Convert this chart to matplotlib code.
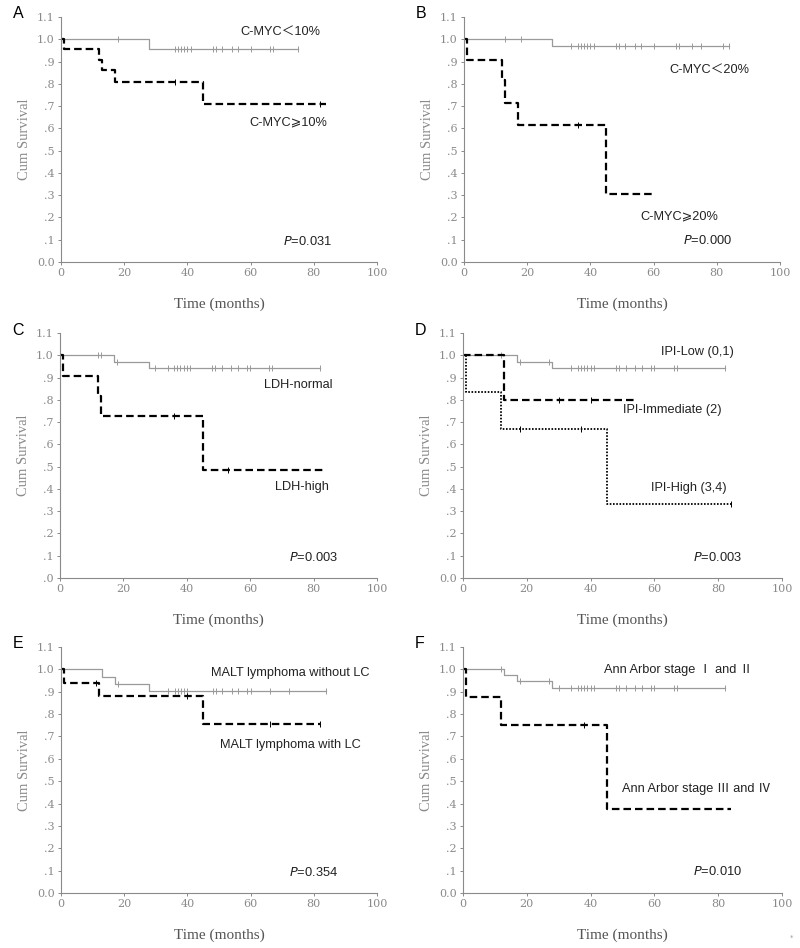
import numpy as np
import matplotlib as mpl
mpl.use('Agg')
import matplotlib.pyplot as plt

mpl.rcParams.update({
    "font.size": 8,
})

SANS = ['Liberation Sans', 'Noto Sans CJK SC', 'DejaVu Sans']
SERIF = ['Liberation Serif', 'DejaVu Serif']
TICKFONT = ['DejaVu Serif']
GREY = "#8a8a8a"
LINE_GREY = "#9a9a9a"

yticks = [0.0, 0.1, 0.2, 0.3, 0.4, 0.5, 0.6, 0.7, 0.8, 0.9, 1.0, 1.1]
ytick_labels = ["0.0", ".1", ".2", ".3", ".4", ".5", ".6", ".7", ".8", ".9", "1.0", "1.1"]
ytick_labels_c = [".0"] + ytick_labels[1:]
xticks = [0, 20, 40, 60, 80, 100]

# ---- panel A : C-MYC 10%
a_low_t = [0, 28, 75]
a_low_s = [1.0, 0.958, 0.958]
a_low_cens = [18, 36, 37, 38, 39, 40, 41, 48, 49, 51, 54, 56, 60, 66, 67, 75]
a_high_t = [0, 1, 12, 13, 17, 45, 84]
a_high_s = [1.0, 0.955, 0.909, 0.862, 0.81, 0.709, 0.709]
a_high_cens = [36, 82]

# ---- panel B : C-MYC 20%
b_low_t = [0, 28, 84]
b_low_s = [1.0, 0.972, 0.972]
b_low_cens = [13, 18, 34, 36, 37, 38, 39, 40, 41, 48, 49, 51, 54, 56, 60, 67, 68, 72, 75, 82, 84]
b_high_t = [0, 1, 12, 13, 17, 45, 59.5]
b_high_s = [1.0, 0.909, 0.818, 0.716, 0.614, 0.307, 0.307]
b_high_cens = [36]

# ---- panel C : LDH
c_norm_t = [0, 17, 28, 82]
c_norm_s = [1.0, 0.971, 0.941, 0.941]
c_norm_cens = [12, 13, 18, 30, 34, 36, 37, 38, 39, 40, 41, 48, 49, 51, 54, 56, 59, 60, 66, 67, 82]
c_high_t = [0, 1, 12, 13, 45, 84]
c_high_s = [1.0, 0.909, 0.818, 0.727, 0.485, 0.485]
c_high_cens = [36, 53]

# ---- panel D : IPI
d_low_t = [0, 17, 28, 82]
d_low_s = [1.0, 0.972, 0.943, 0.943]
d_low_cens = [12, 18, 27, 34, 36, 37, 38, 39, 40, 41, 48, 49, 51, 54, 56, 59, 60, 66, 67, 82]
d_mid_t = [0, 13, 54]
d_mid_s = [1.0, 0.80, 0.80]
d_mid_cens = [30, 40]
d_high_t = [0, 1, 12, 45, 84]
d_high_s = [1.0, 0.833, 0.667, 0.333, 0.333]
d_high_cens = [18, 37, 84]

# ---- panel E : MALT lymphoma
e_no_t = [0, 13, 17, 28, 84]
e_no_s = [1.0, 0.968, 0.935, 0.902, 0.902]
e_no_cens = [18, 34, 36, 37, 38, 39, 40, 48, 49, 51, 54, 56, 59, 60, 66, 72, 84]
e_lc_t = [0, 1, 12, 45, 82]
e_lc_s = [1.0, 0.941, 0.882, 0.756, 0.756]
e_lc_cens = [11, 40, 66, 82]

# ---- panel F : Ann Arbor stage
f_low_t = [0, 13, 17, 28, 82]
f_low_s = [1.0, 0.975, 0.947, 0.918, 0.918]
f_low_cens = [12, 18, 27, 30, 34, 36, 37, 38, 39, 40, 41, 48, 49, 51, 54, 56, 59, 60, 66, 67, 82]
f_high_t = [0, 1, 12, 45, 84]
f_high_s = [1.0, 0.875, 0.75, 0.375, 0.375]
f_high_cens = [38]

solid = dict(color=LINE_GREY, lw=0.9, ls='-')
dashed = dict(color='k', lw=1.6, ls=(0, (3.4, 1.8)))
dotted = dict(color='k', lw=1.3, ls=(0, (0.9, 0.9)))

panels = [
    dict(letter="A", rect=[61, 17, 377, 262], ylab=ytick_labels,
         curves=[(a_low_t, a_low_s, a_low_cens, solid), (a_high_t, a_high_s, a_high_cens, dashed)],
         texts=[(56.7, 1.033, "C-MYC\uff1c10%"), (59.7, 0.627, "C-MYC\u2a7e10%")],
         p=(70.4, 0.093, "0.031")),
    dict(letter="B", rect=[464, 17, 780, 262], ylab=ytick_labels,
         curves=[(b_low_t, b_low_s, b_low_cens, solid), (b_high_t, b_high_s, b_high_cens, dashed)],
         texts=[(65.0, 0.861, "C-MYC\uff1c20%"), (55.9, 0.205, "C-MYC\u2a7e20%")],
         p=(69.4, 0.097, "0.000")),
    dict(letter="C", rect=[60, 333, 377, 578], ylab=ytick_labels_c,
         curves=[(c_norm_t, c_norm_s, c_norm_cens, solid), (c_high_t, c_high_s, c_high_cens, dashed)],
         texts=[(64.4, 0.866, "LDH-normal"), (67.9, 0.41, "LDH-high")],
         p=(72.1, 0.094, "0.003")),
    dict(letter="D", rect=[463, 333, 782, 578], ylab=ytick_labels,
         curves=[(d_low_t, d_low_s, d_low_cens, solid), (d_mid_t, d_mid_s, d_mid_cens, dashed),
                 (d_high_t, d_high_s, d_high_cens, dotted)],
         texts=[(62.0, 1.015, "IPI-Low (0,1)"), (50.1, 0.756, "IPI-Immediate (2)"),
                (59.0, 0.404, "IPI-High (3,4)")],
         p=(72.0, 0.094, "0.003")),
    dict(letter="E", rect=[61, 647, 377, 893], ylab=ytick_labels,
         curves=[(e_no_t, e_no_s, e_no_cens, solid), (e_lc_t, e_lc_s, e_lc_cens, dashed)],
         texts=[(47.5, 0.985, "MALT lymphoma without LC"), (50.4, 0.663, "MALT lymphoma with LC")],
         p=(72.0, 0.091, "0.354")),
    dict(letter="F", rect=[463, 647, 782, 893], ylab=ytick_labels,
         curves=[(f_low_t, f_low_s, f_low_cens, solid), (f_high_t, f_high_s, f_high_cens, dashed)],
         texts=[(44.3, 0.998, "Ann Arbor stage \u2160 and \u2161"),
                (49.9, 0.465, "Ann Arbor stage \u2162 and \u2163")],
         p=(72.0, 0.094, "0.010")),
]

W, H = 800, 948
fig = plt.figure(figsize=(W / 100, H / 100), dpi=100)


def surv_at(t, s, x):
    i = np.searchsorted(np.asarray(t), x, side='right') - 1
    return np.asarray(s)[i]


for pan in panels:
    x0, y0, x1, y1 = pan["rect"]
    ax = fig.add_axes([x0 / W, 1 - y1 / H, (x1 - x0) / W, (y1 - y0) / H])
    for t, s, cens, style in pan["curves"]:
        ax.step(t, s, where='post', **style)
        cy = [surv_at(t, s, c) for c in cens]
        ax.plot(cens, cy, ls='none', marker='|', ms=4, mew=0.7, color=style["color"])
    ax.set_xlim(0, 100)
    ax.set_ylim(0, 1.1)
    ax.set_xticks(xticks)
    ax.set_xticklabels([str(v) for v in xticks], family=TICKFONT, color=GREY, fontsize=8)
    ax.set_yticks(yticks)
    ax.set_yticklabels(pan["ylab"], family=TICKFONT, color=GREY, fontsize=8)
    ax.tick_params(length=2.5, width=0.7, color=GREY, pad=2)
    for side in ["top", "right"]:
        ax.spines[side].set_visible(False)
    for side in ["left", "bottom"]:
        ax.spines[side].set_color(GREY)
        ax.spines[side].set_linewidth(0.8)
    ax.set_xlabel("Time (months)", family=SERIF, color="#555555", fontsize=11, labelpad=14)
    ax.set_ylabel("Cum Survival", family=SERIF, color=GREY, fontsize=10.5, labelpad=4)
    for tx, ty, label in pan["texts"]:
        ax.text(tx, ty, label, family=SANS, fontsize=9.2, color="#222222", ha='left', va='center')
    px, py, pv = pan["p"]
    ax.text(px, py, "$P$=" + pv, family=SANS, fontsize=9.3, color="#222222", ha='left', va='center')
    fig.text((x0 - 48) / W, 1 - (y0 - 3) / H, pan["letter"], family=SANS, fontsize=11.5,
             ha='left', va='center', color='k')

fig.text(0.992, 0.008, "*", fontsize=5, color="#999999", ha='right', va='bottom')

fig.savefig("out.png", dpi=100, facecolor='white')
